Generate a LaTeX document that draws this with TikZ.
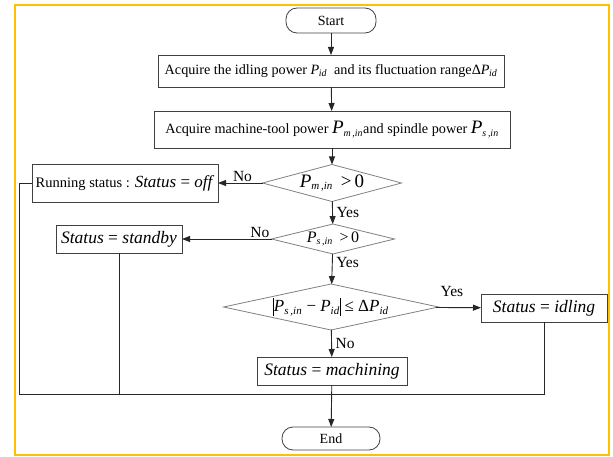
\documentclass[tikz,border=0pt]{standalone}
\usepackage{fontspec}
\setmainfont{Liberation Serif}
\usetikzlibrary{shapes.geometric,arrows.meta}
\newcommand{\Pv}[1]{\textit{P}\textsubscript{\kern-0.05em\textit{#1}}}
\newcommand{\absbar}{\rule[-4pt]{0.6pt}{18pt}}
\begin{document}
\begin{tikzpicture}[x=1pt,y=-1pt,
  every node/.style={inner sep=0pt, outer sep=0pt},
  procbox/.style={draw=black!75, line width=0.8pt, rectangle, align=center},
  termbox/.style={draw=black!75, line width=0.8pt, rectangle, rounded corners=11pt},
  decbox/.style={draw=black!50, line width=0.8pt, diamond},
  conn/.style={draw=black!85, line width=0.9pt},
  arr/.style={conn, -{Triangle[length=8pt,width=6pt]}},
  lbl/.style={font=\fontsize{15.5}{17}\selectfont}
]
\useasboundingbox (0,0) rectangle (613,457);
\draw[draw={rgb,255:red,255;green,192;blue,0}, line width=2pt] (15,5) rectangle (609,455);

\node[termbox, minimum width=90pt, minimum height=25pt, font=\fontsize{14}{16}\selectfont] (start) at (331,20.5) {Start};
\node[procbox, minimum width=346pt, minimum height=32pt, font=\fontsize{14.2}{16}\selectfont] (b1) at (331,71)
  {Acquire the idling power \Pv{id}\ \ and its fluctuation range{Δ}\Pv{id}};
\node[procbox, minimum width=356pt, minimum height=37pt, font=\fontsize{14.2}{16}\selectfont] (b2) at (332,129.5)
  {Acquire machine-tool power {\fontsize{19}{19}\selectfont\textit{P}}\textsubscript{\textit{m\,,in}}and spindle power {\fontsize{19}{19}\selectfont\textit{P}}\textsubscript{\textit{s\,,in}}};
\node[decbox, aspect=3.76, minimum width=139pt, minimum height=37pt, font=\fontsize{19}{19}\selectfont] (d1) at (332,183)
  {\textit{P}\textsubscript{\fontsize{11}{11}\selectfont\textit{m\,,in}} \,{>}\,0};
\node[decbox, aspect=4.1, minimum width=123pt, minimum height=30pt, font=\fontsize{16}{16}\selectfont] (d2) at (333,239)
  {\textit{P}\textsubscript{\fontsize{10}{10}\selectfont\textit{s\,,in}} \,{>}\,0};
\node[decbox, aspect=4.67, minimum width=215pt, minimum height=46pt, font=\fontsize{17}{17}\selectfont] (d3) at (331,307)
  {\absbar\textit{P}\textsubscript{\fontsize{11}{11}\selectfont\textit{s\,,in}} − \textit{P}\textsubscript{\fontsize{11}{11}\selectfont\textit{id}}\absbar\ ≤ Δ\textit{P}\textsubscript{\fontsize{11}{11}\selectfont\textit{id}}};
\node[procbox, minimum width=186pt, minimum height=38pt, font=\fontsize{14.5}{16}\selectfont] (off) at (125,183)
  {Running status : {\fontsize{17}{17}\selectfont\textit{Status} = \textit{off}}};
\node[procbox, minimum width=126pt, minimum height=28pt, font=\fontsize{17.5}{18}\selectfont] (stb) at (119,239)
  {\textit{Status} = \textit{standby}};
\node[procbox, minimum width=126pt, minimum height=28pt, font=\fontsize{17.5}{18}\selectfont] (idl) at (544,308)
  {\textit{Status} = \textit{idling}};
\node[procbox, minimum width=150pt, minimum height=28pt, font=\fontsize{17.5}{18}\selectfont] (mach) at (332,371)
  {\textit{Status} = \textit{machining}};
\node[termbox, minimum width=98pt, minimum height=23pt, font=\fontsize{14}{16}\selectfont] (end) at (331,438.5) {End};

\coordinate (offc) at (19,183);
\coordinate (bl) at (19,394);
\coordinate (br) at (544,394);

\draw[arr] (start) -- (b1);
\draw[arr] (b1) -- (b2);
\draw[arr] (b2) -- (d1);
\draw[arr] (d1) -- node[lbl, above, pos=0.45, yshift=1pt] {No} (off);
\draw[arr] (d1) -- node[lbl, right, xshift=4pt] {Yes} (d2);
\draw[arr] (d2) -- node[lbl, above, pos=0.13, yshift=1pt] {No} (stb);
\draw[arr] (d2) -- node[lbl, right, xshift=4pt, pos=0.3] {Yes} (d3);
\draw[arr] (d3) -- node[lbl, above, pos=0.35, yshift=11pt] {Yes} (idl);
\draw[arr] (d3) -- node[lbl, right, xshift=4pt] {No} (mach);
\draw[conn] (off.west) -- (offc) -- (bl) -- (br) -- (idl.south);
\draw[conn] (stb.south) -- (stb.south |- bl);
\draw[arr] (mach) -- (end);
\end{tikzpicture}
\end{document}
